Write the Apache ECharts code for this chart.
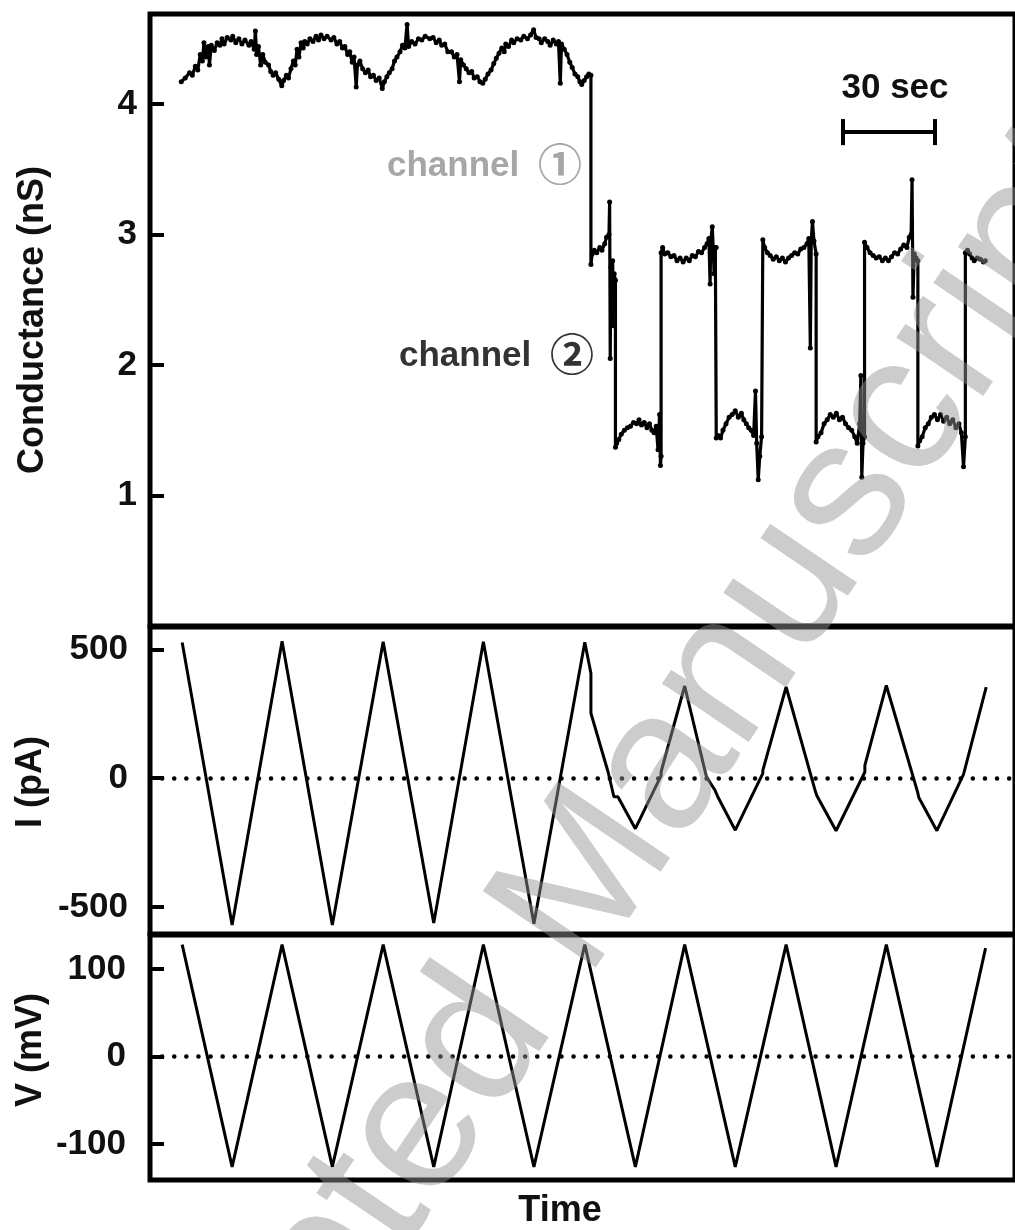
<!DOCTYPE html>
<html>
<head>
<meta charset="utf-8">
<title>Conductance, current and voltage traces</title>
<script src="https://cdn.jsdelivr.net/npm/echarts@6/dist/echarts.min.js"></script>
<style>
  html, body { margin: 0; padding: 0; background: #fff; }
  #main { width: 1015px; height: 1230px; }
</style>
</head>
<body>
<div id="main"></div>
<script>
// time in seconds (30 sec scale bar)

// conductance trace [time, nS]
const gTrace = [
  [10.2,4.17],[11.5,4.20],[12.9,4.24],[13.8,4.22],[14.8,4.29],[15.6,4.26],[16.4,4.38],[17.1,4.33],[17.6,4.47],[18.2,4.36],
  [19.0,4.44],[19.4,4.30],[20.0,4.45],[21.0,4.41],[21.9,4.47],[22.8,4.45],[23.5,4.50],[24.2,4.46],[25.2,4.51],[26.4,4.49],
  [27.0,4.52],[28.0,4.47],[29.0,4.50],[30.0,4.46],[31.0,4.49],[32.3,4.45],[33.0,4.48],[34.0,4.42],[34.4,4.56],[34.8,4.38],
  [35.4,4.44],[36.1,4.30],[36.8,4.38],[37.6,4.32],[38.7,4.30],[39.4,4.25],[40.2,4.22],[41.0,4.24],[42.0,4.19],[43.0,4.14],
  [43.6,4.18],[44.5,4.22],[45.2,4.20],[46.0,4.27],[46.8,4.33],[47.4,4.30],[48.0,4.42],[48.6,4.36],[49.3,4.47],[50.0,4.43],
  [50.5,4.48],[51.3,4.46],[52.2,4.50],[53.2,4.48],[54.2,4.52],[55.0,4.49],[55.8,4.53],[56.8,4.50],[57.8,4.52],[59.1,4.49],
  [60.0,4.51],[61.0,4.46],[61.9,4.48],[62.8,4.43],[63.6,4.44],[64.5,4.38],[65.2,4.40],[66.0,4.32],[66.6,4.36],[67.3,4.13],
  [67.7,4.30],[68.5,4.33],[69.4,4.27],[70.3,4.24],[71.2,4.26],[72.0,4.21],[72.9,4.22],[73.8,4.18],[74.8,4.20],[75.8,4.12],
  [76.5,4.17],[77.3,4.21],[78.1,4.24],[79.0,4.27],[79.8,4.33],[80.6,4.36],[81.6,4.40],[82.4,4.45],[83.2,4.43],[83.9,4.61],
  [84.4,4.44],[85.4,4.48],[86.5,4.46],[87.6,4.50],[88.7,4.49],[89.8,4.52],[91.3,4.50],[92.4,4.51],[93.4,4.47],[94.4,4.49],
  [95.2,4.45],[96.2,4.46],[97.2,4.40],[98.4,4.40],[99.3,4.36],[100.2,4.38],[101.0,4.17],[101.4,4.34],[102.3,4.30],[103.2,4.27],
  [104.1,4.24],[105.0,4.25],[105.8,4.20],[106.8,4.21],[107.7,4.17],[108.6,4.16],
  [109.4,4.19],[110.3,4.23],[111.3,4.26],[112.2,4.31],[113.0,4.35],[113.9,4.39],[114.8,4.43],[115.6,4.40],[116.1,4.46],[117.0,4.44],
  [118.0,4.49],[118.7,4.47],[119.8,4.50],[121.0,4.49],[122.0,4.52],[123.2,4.50],[124.2,4.53],[125.2,4.57],[126.0,4.51],[127.0,4.50],
  [127.7,4.47],[128.8,4.50],[129.8,4.48],[130.6,4.45],[131.6,4.49],[132.6,4.46],[133.3,4.48],[133.9,4.16],[134.3,4.46],[135.2,4.42],
  [136.1,4.38],[137.0,4.32],[137.8,4.28],[138.7,4.23],[139.6,4.21],[140.3,4.17],[140.9,4.15],[141.7,4.18],[142.5,4.21],[143.2,4.23],
  [143.9,4.22],
  // channel 1 closes
  [143.9,2.77],[144.3,2.85],[145.0,2.88],[145.8,2.86],[146.8,2.90],[147.5,2.88],[148.4,2.93],[149.0,2.98],[149.8,3.00],[150.0,3.25],
  [150.2,2.05],[150.4,2.75],[151.0,2.80],[151.2,2.30],[151.5,2.70],[151.9,2.65],
  [151.9,1.37],[152.3,1.40],[153.0,1.43],[153.8,1.47],[154.8,1.50],[155.8,1.52],[156.8,1.53],[157.8,1.56],[158.8,1.55],[159.6,1.58],
  [160.4,1.54],[161.3,1.56],[162.2,1.52],[163.0,1.55],[163.8,1.50],[164.5,1.48],[165.2,1.53],[165.8,1.35],[166.3,1.62],[166.6,1.23],
  [166.8,1.30],
  [166.8,2.86],[167.3,2.90],[168.0,2.85],[169.0,2.86],[170.0,2.83],[171.0,2.84],[172.0,2.80],[173.0,2.82],[174.0,2.79],[175.0,2.82],
  [176.0,2.80],[177.0,2.84],[178.0,2.83],[179.0,2.87],[180.0,2.86],[181.0,2.90],[181.8,2.93],[182.4,2.97],[182.8,2.62],[183.0,2.95],
  [183.5,3.06],[183.8,2.90],[184.1,2.70],[184.5,2.90],[184.8,2.90],
  [184.8,1.44],[185.4,1.46],[186.2,1.44],[187.0,1.50],[188.0,1.55],[189.0,1.60],[190.0,1.62],[191.0,1.65],[192.0,1.60],[193.0,1.63],
  [193.8,1.58],[194.6,1.55],[195.4,1.52],[196.2,1.50],[197.0,1.46],[197.6,1.80],[198.0,1.40],[198.5,1.12],[199.0,1.30],[199.6,1.45],
  [200.0,2.96],[200.6,2.90],[201.5,2.86],[202.4,2.84],[203.4,2.81],[204.4,2.83],[205.4,2.80],[206.4,2.82],[207.4,2.79],[208.4,2.82],
  [209.4,2.84],[210.4,2.86],[211.4,2.85],[212.4,2.89],[213.4,2.90],[214.4,2.93],[215.0,2.97],[215.5,2.13],[215.8,2.95],[216.2,3.10],
  [216.7,2.95],[217.4,2.85],
  [217.4,1.41],[218.0,1.45],[219.0,1.48],[220.0,1.55],[221.0,1.58],[222.0,1.62],[223.0,1.60],[224.0,1.63],[225.0,1.58],[226.0,1.60],
  [227.0,1.55],[228.0,1.52],[229.0,1.50],[230.0,1.45],[230.8,1.40],[231.6,1.55],[232.0,1.92],[232.3,1.14],[232.7,1.40],[233.2,1.45],
  [233.2,2.94],[234.0,2.90],[235.0,2.86],[236.0,2.84],[237.0,2.82],[238.0,2.83],[239.0,2.80],[240.0,2.82],[241.0,2.80],[242.0,2.83],
  [243.0,2.86],[244.0,2.85],[245.0,2.89],[246.0,2.92],[247.0,2.90],[247.8,2.98],[248.4,3.00],[248.7,3.42],[249.0,2.52],[249.4,2.85],
  [250.0,2.82],[250.6,2.80],
  [250.6,1.38],[251.2,1.42],[252.0,1.45],[253.0,1.52],[254.0,1.55],[255.0,1.60],[256.0,1.62],[257.0,1.58],[258.0,1.62],[259.0,1.57],
  [260.0,1.60],[261.0,1.55],[262.0,1.58],[263.0,1.52],[264.0,1.55],[264.8,1.48],[265.5,1.22],[266.1,1.45],
  [266.1,2.86],[266.8,2.88],[267.5,2.85],[268.3,2.82],[269.0,2.80],[270.0,2.82],[271.0,2.81],[272.0,2.79],[272.6,2.80]
];

// current trace (pA), corners of the ramps
const iTime  = [10.5, 26.8, 43.1, 59.5, 76.1, 92.6, 108.8, 125.3, 141.9, 143.9, 143.9, 149.5, 151.4, 152.7, 158.4,
                166.8, 166.8, 174.5, 181.6, 184.4, 185.3, 191.0, 200.0, 200.0, 207.6, 217.2, 217.6, 223.9,
                233.3, 233.3, 240.3, 250.5, 250.9, 256.8, 265.5, 266.1, 272.9];
const iValue = [527, -570, 532, -570, 530, -562, 530, -565, 528, 407, 252, 24, -72, -72, -196,
                10, 25, 358, 5, -47, -72, -202, 19, 30, 354, -53, -67, -204,
                24, 50, 360, -53, -75, -204, 15, 22, 354];

// voltage ramp (mV)
const vTime  = [10.5, 26.8, 43.1, 59.5, 76.1, 92.6, 108.8, 125.3, 141.9, 158.4, 174.5, 191.0, 207.6, 223.9, 240.3, 256.8, 272.7];
const vValue = [128, -126, 128, -126, 128, -126, 128, -126, 128, -126, 128, -126, 128, -126, 128, -126, 124];

const gTicks = [1, 2, 3, 4];
const iTicks = [-500, 0, 500];
const vTicks = [-100, 0, 100];

// 30 sec scale bar
const barStart = 226.1;
const barLength = 30;
const barLevel = 3.785;

const FONT = 'Liberation Sans';
const pairs = (t, v) => t.map((x, k) => [x, v[k]]);

const chart = echarts.init(document.getElementById('main'));

function yAxisFor(idx, min, max, ticks, margin) {
  return {
    type: 'value', gridIndex: idx, min: min, max: max,
    axisLine: { show: false },
    splitLine: { show: false },
    axisTick: { inside: true, length: 14, customValues: ticks, lineStyle: { color: '#000', width: 4 } },
    axisLabel: { customValues: ticks, margin: margin, color: '#111', fontFamily: FONT, fontWeight: 'bold', fontSize: 35 }
  };
}

function xAxisFor(idx) {
  return { type: 'value', gridIndex: idx, min: 0, max: 282.3, show: false };
}

const zeroLine = {
  silent: true, symbol: ['none', 'none'], label: { show: false },
  emphasis: { disabled: true },
  lineStyle: { color: '#000', width: 4.5, type: [0.1, 12], cap: 'round' },
  data: [{ yAxis: 0 }]
};

const gridBox = { show: true, borderColor: '#000', borderWidth: 5, left: 150, width: 875 };

function label(text, x, y, size, color, rot, align) {
  return {
    type: 'text', x: x, y: y, rotation: rot || 0,
    style: { text: text, fill: color, font: 'bold ' + size + 'px ' + FONT, align: align || 'center', verticalAlign: 'middle' }
  };
}

const option = {
  animation: false,
  backgroundColor: '#fff',
  grid: [
    Object.assign({ top: 14, height: 612 }, gridBox),
    Object.assign({ top: 627, height: 307 }, gridBox),
    Object.assign({ top: 935, height: 245 }, gridBox)
  ],
  xAxis: [xAxisFor(0), xAxisFor(1), xAxisFor(2)],
  yAxis: [
    yAxisFor(0, 0, 4.69, gTicks, 13),
    yAxisFor(1, -605, 587, iTicks, 22),
    yAxisFor(2, -141, 139, vTicks, 24)
  ],
  series: [
    {
      type: 'line', xAxisIndex: 0, yAxisIndex: 0, data: gTrace,
      symbol: 'circle', symbolSize: 5, showSymbol: true,
      itemStyle: { color: '#000' },
      lineStyle: { color: '#000', width: 3.2 },
      markLine: {
        silent: true, symbol: ['none', 'none'], label: { show: false },
        emphasis: { disabled: true },
        lineStyle: { color: '#000', width: 4, type: 'solid' },
        data: [
          [{ coord: [barStart, barLevel] }, { coord: [barStart + barLength, barLevel] }],
          [{ coord: [barStart, barLevel + 0.1] }, { coord: [barStart, barLevel - 0.1] }],
          [{ coord: [barStart + barLength, barLevel + 0.1] }, { coord: [barStart + barLength, barLevel - 0.1] }]
        ]
      }
    },
    {
      type: 'line', xAxisIndex: 1, yAxisIndex: 1, data: pairs(iTime, iValue),
      showSymbol: false, lineStyle: { color: '#000', width: 3 },
      markLine: zeroLine
    },
    {
      type: 'line', xAxisIndex: 2, yAxisIndex: 2, data: pairs(vTime, vValue),
      showSymbol: false, lineStyle: { color: '#000', width: 3 },
      markLine: zeroLine
    }
  ],
  graphic: [
    label('Conductance (nS)', 33, 320, 36, '#111', Math.PI / 2),
    label('I (pA)', 31, 782, 36, '#111', Math.PI / 2),
    label('V (mV)', 31, 1050, 36, '#111', Math.PI / 2),
    label('Time', 560, 1211, 36, '#111'),
    label('30 sec', 895, 88, 35, '#111'),
    label('channel', 387, 166, 35, '#a6a6a6', 0, 'left'),
    { type: 'text', x: 560, y: 164,
      style: { text: '①', fill: '#a6a6a6', font: 'bold 44px "Noto Sans CJK JP"', align: 'center', verticalAlign: 'middle' } },
    label('channel', 399, 356, 35, '#333', 0, 'left'),
    { type: 'text', x: 572, y: 354,
      style: { text: '②', fill: '#333', font: 'bold 44px "Noto Sans CJK JP"', align: 'center', verticalAlign: 'middle' } },
    // watermark
    { type: 'text', x: 566, y: 914, rotation: 0.975, z: 100, silent: true,
      style: { text: 'Accepted Manuscript', fill: 'rgba(147,147,147,0.475)', font: '198px ' + FONT, align: 'center', verticalAlign: 'middle' } }
  ]
};

chart.setOption(option);
</script>
</body>
</html>
